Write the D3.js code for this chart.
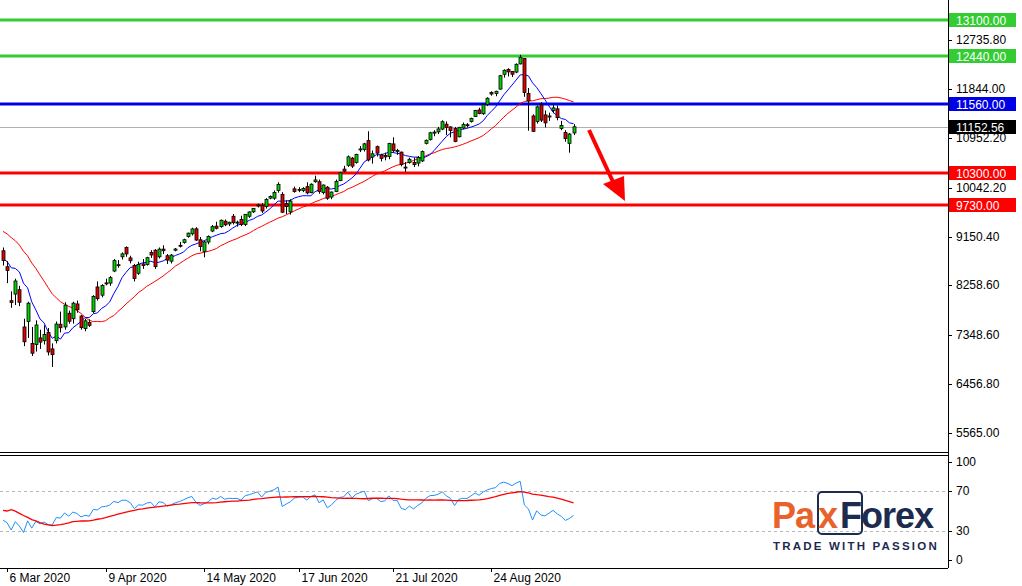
<!DOCTYPE html>
<html><head><meta charset="utf-8">
<script src="https://cdn.jsdelivr.net/npm/d3@7/dist/d3.min.js"></script>
<style>body{margin:0;background:#fff}svg{display:block;font-family:"Liberation Sans",Arial,sans-serif}</style>
</head><body><svg id="c" width="1022" height="586"></svg>
<script>
// ---- data ----
const warmup = [9450,9400,9530,9630,9600,9700,9720,9620,9730,9720,9520,9450,9050,8970,8850,8440,8460,8880,8610,9060];
const open = [8890,8600,7980,8100,8180,7500,7600,7200,7180,7300,7250,7400,7100,7250,7550,7500,7750,7650,7920,7700,7470,7580,7780,8230,8080,8300,8300,8520,8620,8780,8950,8760,8620,8480,8650,8640,8860,8900,8780,8920,8800,8700,8900,8990,9040,9150,9200,9290,9090,8880,9050,9250,9340,9330,9430,9380,9520,9400,9460,9370,9520,9600,9720,9720,9700,9850,9850,9990,9920,9750,9600,10020,10000,9990,10060,9950,10150,10150,9950,10050,9870,9970,10170,10380,10450,10580,10500,10740,10740,10900,10600,10790,10640,10630,10610,10840,10700,10690,10400,10500,10500,10490,10530,10850,10920,11040,11060,11110,11200,11150,11120,10970,11130,11190,11250,11340,11460,11390,11560,11780,11760,11840,12110,12200,12160,12150,12300,12400,11760,11350,11250,11550,11370,11330,11450,11480,11120,11050,10850,11040];
const high = [8950,8700,8150,8380,8250,7650,7960,7500,7620,7450,7530,7480,7200,7600,7780,7950,7800,7960,7980,7720,7650,7640,8080,8330,8280,8380,8430,8740,8720,8860,8970,8800,8650,8690,8740,8780,8900,8920,8950,8990,8830,8830,8940,9050,9110,9220,9310,9320,9140,9070,9170,9360,9420,9460,9460,9420,9560,9440,9530,9560,9610,9670,9750,9760,9850,9900,9990,10140,9960,9810,9830,10060,10050,10050,10140,10120,10260,10190,10100,10070,9970,10190,10330,10440,10630,10600,10660,10800,10860,11070,10720,10810,10660,10680,10860,10960,10750,10700,10510,10590,10590,10620,10720,10920,11060,11090,11150,11270,11250,11160,11150,11150,11230,11220,11320,11460,11500,11570,11690,11800,11810,12100,12200,12220,12170,12310,12465,12400,11860,11380,11540,11600,11450,11410,11560,11540,11260,11090,11040,11200];
const low = [8620,8300,7850,7900,7880,7150,7300,6970,7050,7100,7180,6980,6770,7200,7400,7450,7560,7560,7760,7450,7420,7500,7750,7980,8040,8260,8250,8500,8580,8730,8780,8660,8330,8450,8560,8620,8760,8560,8750,8830,8650,8660,8880,8950,9020,9130,9170,9070,8880,8770,9010,9230,9280,9310,9340,9340,9370,9330,9340,9340,9490,9580,9680,9580,9660,9830,9820,9950,9580,9560,9550,9950,9960,9960,9920,9940,10130,9930,9920,9820,9830,9960,10160,10320,10420,10400,10480,10690,10700,10520,10480,10610,10520,10540,10560,10680,10640,10430,10330,10480,10420,10430,10510,10830,10900,10980,11020,11090,11000,10960,10870,10960,11110,11140,11230,11330,11380,11370,11530,11720,11710,11830,12050,12070,12060,12130,12290,11700,11080,11060,11210,11240,11140,11260,11400,11270,11090,10880,10680,11000];
const close = [8711,8531,7948,8339,7951,7229,7934,7021,7536,7224,7362,7043,6995,7553,7486,7898,7604,7934,7813,7487,7612,7529,8056,8017,8255,8304,8400,8710,8636,8833,8832,8708,8385,8640,8623,8764,8813,8600,8920,8890,8719,8811,8922,8986,9092,9212,9288,9085,8966,9051,9150,9330,9300,9447,9364,9410,9402,9412,9368,9555,9598,9664,9726,9616,9825,9882,9953,10102,9593,9699,9797,9972,10011,10028,9946,10104,10183,9972,10089,9849,9962,10157,10312,10342,10604,10434,10649,10748,10841,10547,10660,10671,10576,10603,10848,10715,10722,10466,10417,10560,10462,10594,10699,10905,11043,11055,11113,11245,11143,11083,10884,11143,11192,11187,11303,11448,11393,11554,11673,11750,11800,12085,12183,12154,12111,12292,12420,11779,11623,11069,11516,11274,11223,11350,11497,11319,11174,10936,11020,11152.56];
const dateLabels = ["6 Mar 2020","9 Apr 2020","14 May 2020","17 Jun 2020","21 Jul 2020","24 Aug 2020"];
const dateLabelIdx = [1,25,49,72,95,119];
const priceTicks = [12735.80,11844.00,10952.20,10042.20,9150.40,8258.60,7348.60,6456.80,5565.00];
const levels = [13100,12440,11560,10300,9730];
const levelKinds = ["green","green","blue","red","red"];
const lastPrice = 11152.56;
const rsiTicks = [100,70,30,0];

// ---- layout ----
const svg = d3.select("#c");
const axisX = 948, mainTop = 0, mainBot = 452, subTop = 455, subBot = 568;
const x = d3.scaleLinear().domain([0,1]).range([3,7.105]);
const y = d3.scaleLinear().domain([5565,12735.8]).range([433,40]);
const yr = d3.scaleLinear().domain([0,100]).range([560,462]);
const colors = {green:"#33cc33",blue:"#0000e6",red:"#ff0000"};

svg.append("clipPath").attr("id","cm").append("rect").attr("x",0).attr("y",mainTop).attr("width",axisX).attr("height",mainBot-mainTop);
svg.append("clipPath").attr("id","cs").append("rect").attr("x",0).attr("y",subTop).attr("width",axisX).attr("height",subBot-subTop);

svg.append("line").attr("x1",axisX+0.5).attr("x2",axisX+0.5).attr("y1",0).attr("y2",subBot).attr("stroke","#000");
svg.append("line").attr("x1",0).attr("x2",axisX).attr("y1",mainBot+0.5).attr("y2",mainBot+0.5).attr("stroke","#000");
svg.append("line").attr("x1",0).attr("x2",axisX).attr("y1",subTop+0.5).attr("y2",subTop+0.5).attr("stroke","#000");
svg.append("line").attr("x1",0).attr("x2",axisX).attr("y1",subBot+0.5).attr("y2",subBot+0.5).attr("stroke","#000");

const all = warmup.concat(close), off = warmup.length;
function sma(arr,n,start){return d3.range(start,arr.length).map(i=>d3.mean(arr.slice(Math.max(0,i-n+1),i+1)));}
const maFast = sma(all,8,off), maSlow = sma(all,21,off);
const gm = svg.append("g").attr("clip-path","url(#cm)");

levels.forEach((v,i)=>{
  gm.append("line").attr("x1",0).attr("x2",axisX).attr("y1",Math.round(y(v))).attr("y2",Math.round(y(v)))
    .attr("stroke",colors[levelKinds[i]]).attr("stroke-width",3);
});
gm.append("line").attr("x1",0).attr("x2",axisX).attr("y1",Math.round(y(lastPrice))+0.5).attr("y2",Math.round(y(lastPrice))+0.5).attr("stroke","#b0b0b0");

const line = d3.line().x((d,i)=>x(i)).y(d=>y(d));
gm.append("path").attr("d",line(maSlow)).attr("fill","none").attr("stroke","#ff0000").attr("stroke-width",1);
gm.append("path").attr("d",line(maFast)).attr("fill","none").attr("stroke","#0000ff").attr("stroke-width",1);

close.forEach((c,i)=>{
  const o=open[i], cx=Math.round(x(i))+0.5;
  gm.append("line").attr("x1",cx).attr("x2",cx).attr("y1",y(high[i])).attr("y2",y(low[i])).attr("stroke","#000");
  const t=y(Math.max(o,c)), b=y(Math.min(o,c));
  gm.append("rect").attr("x",cx-1.5).attr("y",t).attr("width",3).attr("height",Math.max(1,b-t))
    .attr("fill",c>=o?"#00d000":"#e00000").attr("stroke","#000").attr("stroke-width",0.8);
});

gm.append("line").attr("x1",589).attr("y1",130).attr("x2",614).attr("y2",184).attr("stroke","#ff0000").attr("stroke-width",4);
gm.append("path").attr("d","M603,184 L625,201 L624,176 Z").attr("fill","#ff0000");

priceTicks.forEach(v=>{
  svg.append("line").attr("x1",axisX).attr("x2",axisX+4).attr("y1",Math.round(y(v))+0.5).attr("y2",Math.round(y(v))+0.5).attr("stroke","#000");
  svg.append("text").attr("x",956).attr("y",y(v)+4).attr("font-size",12).text(v.toFixed(2));
});
const labelBoxes = levels.map((v,i)=>({v,fill:colors[levelKinds[i]],txt:v.toFixed(2)})).concat([{v:lastPrice,fill:"#000",txt:lastPrice.toFixed(2)}]);
labelBoxes.forEach(d=>{
  const yy=Math.round(y(d.v));
  svg.append("rect").attr("x",axisX+1).attr("y",yy-7).attr("width",67).attr("height",14).attr("fill",d.fill);
  svg.append("text").attr("x",956).attr("y",yy+4.5).attr("font-size",12).attr("fill","#fff").text(d.txt);
});

function rsi(arr,n){const out=[];let ag=0,al=0;for(let i=1;i<arr.length;i++){const ch=arr[i]-arr[i-1];const g=Math.max(ch,0),l=Math.max(-ch,0);if(i<=n){ag+=g/n;al+=l/n;}else{ag=(ag*(n-1)+g)/n;al=(al*(n-1)+l)/n;}out.push(al===0?100:100-100/(1+ag/al));}return [50].concat(out);}
const rsiAll = rsi(all,14);
const rsiV = rsiAll.slice(off);
const rsiMa = sma(rsiAll,21,off);
const gs = svg.append("g").attr("clip-path","url(#cs)");
[70,30].forEach(v=>gs.append("line").attr("x1",0).attr("x2",axisX).attr("y1",Math.round(yr(v))+0.5).attr("y2",Math.round(yr(v))+0.5).attr("stroke","#b8b8b8").attr("stroke-dasharray","3,3"));
const rl = d3.line().x((d,i)=>x(i)).y(d=>yr(d));
gs.append("path").attr("d",rl(rsiV)).attr("fill","none").attr("stroke","#1e90ff").attr("stroke-width",1);
gs.append("path").attr("d",rl(rsiMa)).attr("fill","none").attr("stroke","#ff0000").attr("stroke-width",1.3);
rsiTicks.forEach(v=>{
  svg.append("line").attr("x1",axisX).attr("x2",axisX+4).attr("y1",Math.round(yr(v))+0.5).attr("y2",Math.round(yr(v))+0.5).attr("stroke","#000");
  svg.append("text").attr("x",956).attr("y",yr(v)+4).attr("font-size",12).text(v);
});

dateLabelIdx.forEach((idx,i)=>{
  const xx=Math.round(x(idx))+0.5;
  svg.append("line").attr("x1",xx).attr("x2",xx).attr("y1",subBot).attr("y2",subBot+4).attr("stroke","#000");
  svg.append("text").attr("x",xx+2).attr("y",582).attr("font-size",12).text(dateLabels[i]);
});

const lg = svg.append("g");
lg.append("text").attr("x",772).attr("y",528).attr("font-size",36).attr("font-weight","bold").attr("fill","#e8622c").attr("letter-spacing",-1).text("Pa");
lg.append("rect").attr("x",818).attr("y",492).attr("width",44).attr("height",42).attr("rx",4).attr("fill","none").attr("stroke","#1d2b4f").attr("stroke-width",2);
lg.append("text").attr("x",818).attr("y",528).attr("font-size",36).attr("font-weight","bold").attr("fill","#e8622c").text("x");
lg.append("text").attr("x",840).attr("y",528).attr("font-size",36).attr("font-weight","bold").attr("fill","#1d2b4f").attr("letter-spacing",-1).text("Forex");
lg.append("text").attr("x",773).attr("y",550).attr("font-size",11.5).attr("font-weight","bold").attr("fill","#1d2b4f").attr("letter-spacing",2.2).text("TRADE WITH PASSION");
</script></body></html>
